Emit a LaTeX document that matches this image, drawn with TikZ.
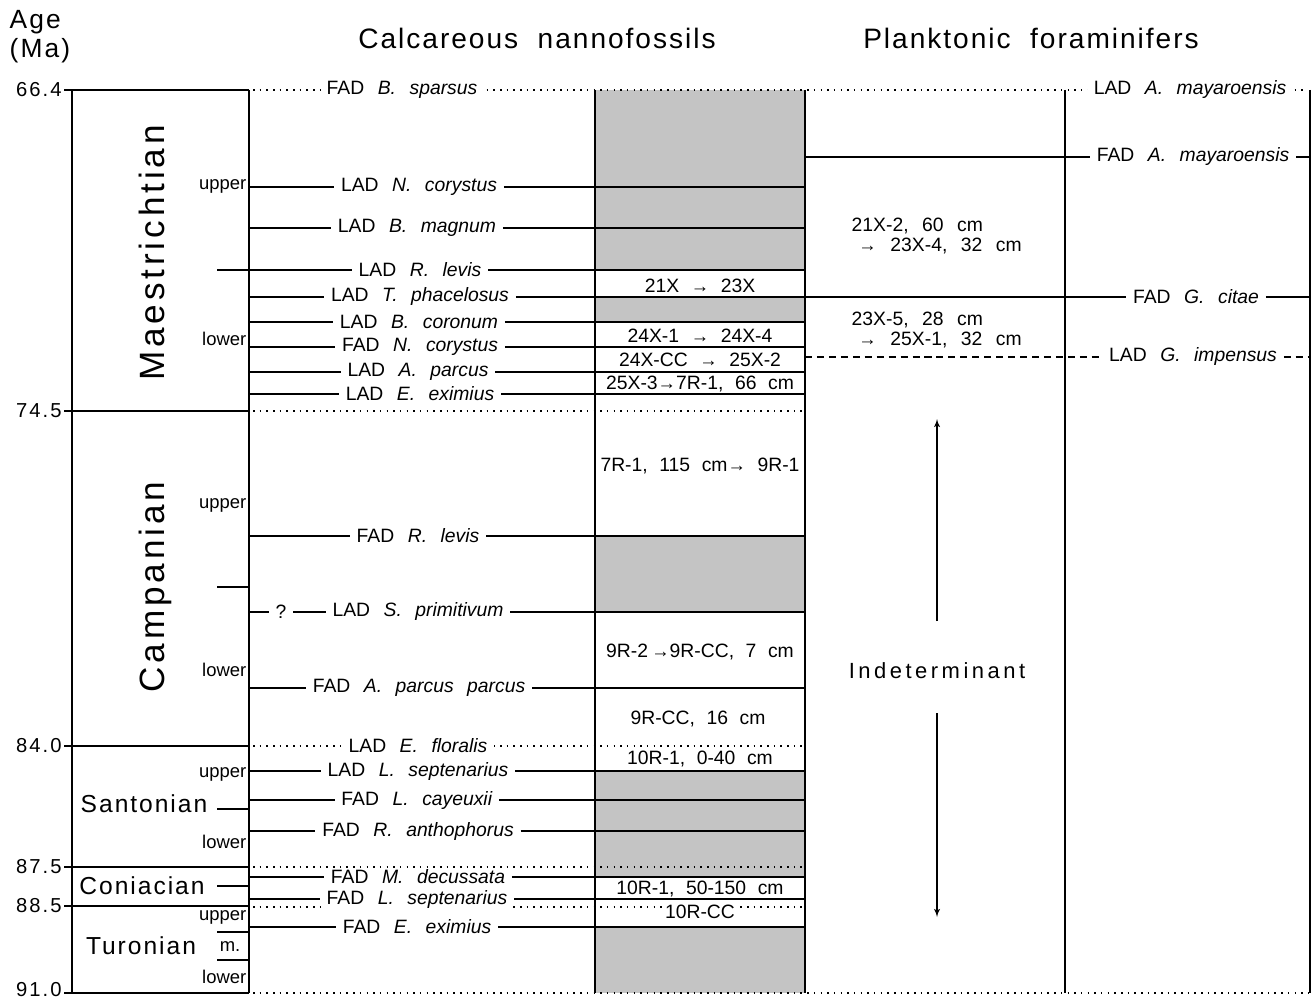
\documentclass[tikz,border=0pt]{standalone}
\usepackage{fontspec}
\setmainfont{Liberation Sans}
\newfontfamily\headfont[LetterSpace=7]{Liberation Sans}
\newfontfamily\indfont[LetterSpace=16]{Liberation Sans}
\newfontfamily\stagefont[LetterSpace=11]{Liberation Sans}
\newfontfamily\substfont[LetterSpace=8]{Liberation Sans}
\newfontfamily\agefont[LetterSpace=10]{Liberation Sans}
\usepackage{tikz}
\usetikzlibrary{arrows}
\newcommand{\species}[1]{\textit{#1}}
\newcommand{\toarr}{{\fontsize{10.5}{11}\selectfont →}}
\newcommand{\evfont}{\fontsize{11}{13}\selectfont\spaceskip 0.7em\relax}
\newcommand{\pffont}{\fontsize{11}{11.6}\selectfont\spaceskip 0.7em\relax}
\newcommand{\smfont}{\fontsize{11}{13}\selectfont\spaceskip 0.6em\relax}
\tikzset{evt/.style={fill=white,inner xsep=3.5pt,inner ysep=1pt,font=\evfont},
  smp/.style={fill=white,inner sep=1pt,font=\smfont},
  pfs/.style={anchor=west,inner sep=0pt,align=left,font=\pffont},
  agel/.style={anchor=east,inner sep=1pt,font=\fontsize{11.5}{13}\selectfont\agefont},
  sub/.style={anchor=east,inner sep=0pt,font=\fontsize{10.5}{12}\selectfont},
  stg/.style={inner sep=0pt,font=\fontsize{14}{16}\selectfont\substfont},
  bigstage/.style={rotate=90,anchor=base,inner sep=0pt,font=\fontsize{20}{24}\selectfont\stagefont},
  head/.style={inner sep=0pt,font=\fontsize{16}{18}\selectfont\headfont},
  dots/.style={line width=0.9pt,dash pattern=on 0.9pt off 2.9pt},
  impdash/.style={line width=1.1pt,dash pattern=on 4pt off 2.8pt},
  shade/.style={fill=black!23}}
\begin{document}
\begin{tikzpicture}[x=0.02cm,y=-0.02cm,line width=0.8pt]
\useasboundingbox (0,0) rectangle (1312,1000);
%headings
\node[stg,anchor=west,font=\fontsize{15}{17}\selectfont\substfont] (age) at (9,22) {Age};
\node[stg,anchor=west,font=\fontsize{15}{17}\selectfont\substfont] (ma) at (9,51) {(Ma)};
\node[head] (cn) at (537,38) {Calcareous~ nannofossils};
\node[head] (pf) at (1031,38) {Planktonic~ foraminifers};
%shaded intervals of the sample column
\fill[shade] (595,90) rectangle (805,270); \fill[shade] (595,297) rectangle (805,322);
\fill[shade] (595,536) rectangle (805,612); \fill[shade] (595,771) rectangle (805,877);
\fill[shade] (595,927) rectangle (805,993);
%dotted stage boundaries
\draw[dots] (253,90) -- (1306,90); \draw[dots] (253,411) -- (805,411);
\draw[dots] (253,746) -- (805,746); \draw[dots] (253,867) -- (805,867);
\draw[dots] (253,907) -- (805,907); \draw[dots] (253,993) -- (1310,993);
%ages
\node[agel] (a664) at (64,90) {66.4}; \node[agel] (a745) at (64,411) {74.5};
\node[agel] (a840) at (64,746) {84.0}; \node[agel] (a875) at (64,867) {87.5};
\node[agel] (a885) at (64,906) {88.5}; \node[agel] (a910) at (64,990) {91.0};
%stages and substages
\node[bigstage] (maes) at (164,253) {Maestrichtian}; \node[bigstage] (camp) at (164,587) {Campanian};
\node[stg] (sant) at (144,804) {Santonian}; \node[stg] (coni) at (142,886) {Coniacian};
\node[stg] (turo) at (141,946) {Turonian};
\node[sub] (mu) at (247,186) {upper}; \node[sub] (ml) at (247,339) {lower};
\node[sub] (cu) at (247,505) {upper}; \node[sub] (cl) at (247,670) {lower};
\node[sub] (su) at (247,774) {upper}; \node[sub] (sl) at (247,842) {lower};
\node[sub] (tu) at (247,917) {upper}; \node[sub,anchor=center] (tm) at (230,947) {m.};
\node[sub] (tl) at (247,977) {lower};
%nannofossil events
\node[evt] (Bspar) at (402,90) {FAD \species{B. sparsus}};
\node[evt] (Ncorl) at (419,187) {LAD \species{N. corystus}};
\node[evt] (Bmag) at (417,228) {LAD \species{B. magnum}};
\node[evt] (Rlevl) at (420,270) {LAD \species{R. levis}};
\node[evt] (Tpha) at (420,297) {LAD \species{T. phacelosus}};
\node[evt] (Bcor) at (419,322) {LAD \species{B. coronum}};
\node[evt] (Ncorf) at (420,347) {FAD \species{N. corystus}};
\node[evt] (Apar) at (418,372) {LAD \species{A. parcus}};
\node[evt] (Eexl) at (420,394) {LAD \species{E. eximius}};
\node[evt] (Rlevf) at (418,536) {FAD \species{R. levis}};
\node[evt] (q) at (281,612) {?}; \node[evt] (Sprim) at (418,612) {LAD \species{S. primitivum}};
\node[evt] (App) at (419,688) {FAD \species{A. parcus parcus}};
\node[evt] (Eflo) at (418,746) {LAD \species{E. floralis}};
\node[evt] (Lsepl) at (418,771) {LAD \species{L. septenarius}};
\node[evt] (Lcay) at (417,800) {FAD \species{L. cayeuxii}};
\node[evt] (Rant) at (418,831) {FAD \species{R. anthophorus}};
\node[evt] (Mdec) at (418,877) {FAD \species{M. decussata}};
\node[evt] (Lsepf) at (417,899) {FAD \species{L. septenarius}};
\node[evt] (Eexf) at (417,927) {FAD \species{E. eximius}};
%samples
\node[smp] (s1) at (700,286) {21X \toarr\ 23X}; \node[smp] (s2) at (700,336) {24X-1 \toarr\ 24X-4};
\node[smp] (s3) at (700,360) {24X-CC \toarr\ 25X-2}; \node[smp] (s4) at (700,384) {25X-3\toarr 7R-1, 66 cm};
\node[smp] (s5) at (700,466) {7R-1, 115 cm\toarr\ 9R-1}; \node[smp] (s6) at (700,652) {9R-2\,\toarr 9R-CC, 7 cm};
\node[smp] (s7) at (698,719) {9R-CC, 16 cm}; \node[smp] (s8) at (700,759) {10R-1, 0-40 cm};
\node[smp] (s9) at (700,889) {10R-1, 50-150 cm}; \node[smp] (s10) at (700,912) {10R-CC};
%foraminifer events
\node[evt] (Amayl) at (1190,90) {LAD \species{A. mayaroensis}};
\node[evt] (Amayf) at (1193,157) {FAD \species{A. mayaroensis}};
\node[evt] (Gcit) at (1196,297) {FAD \species{G. citae}};
\node[evt] (Gimp) at (1193,357) {LAD \species{G. impensus}};
\node[pfs] (pf1) at (851,236) {21X-2, 60 cm\\\hspace{0.35em}\toarr\ 23X-4, 32 cm};
\node[pfs] (pf2) at (851,330) {23X-5, 28 cm\\\hspace{0.35em}\toarr\ 25X-1, 32 cm};
\node[inner sep=0pt,font=\fontsize{12.5}{14}\selectfont\indfont] (Ind) at (937,671) {Indeterminant};
%stage column
\draw (a664) -- (249,90); \draw (a745) -- (249,411); \draw (a840) -- (249,746);
\draw (a875) -- (249,867); \draw (a885) -- (249,906); \draw (a910.east) ++(0,3) -- (249,993);
\draw (72,90) -- (72,993); \draw (249,90) -- (249,993);
\draw (217,587) -- (249,587); \draw (217,809) -- (249,809); \draw (217,886) -- (249,886);
\draw (217,932) -- (249,932); \draw (217,960) -- (249,960);
%event lines
\draw (249,187) -- (Ncorl) -- (805,187); \draw (249,228) -- (Bmag) -- (805,228);
\draw (217,270) -- (Rlevl) -- (805,270); \draw (249,297) -- (Tpha) -- (Gcit) -- (1310,297);
\draw (249,322) -- (Bcor) -- (805,322); \draw (249,347) -- (Ncorf) -- (805,347);
\draw (249,372) -- (Apar) -- (805,372); \draw (249,394) -- (Eexl) -- (805,394);
\draw (249,536) -- (Rlevf) -- (805,536); \draw (249,612) -- (q) -- (Sprim) -- (805,612);
\draw (249,688) -- (App) -- (805,688); \draw (249,771) -- (Lsepl) -- (805,771);
\draw (249,800) -- (Lcay) -- (805,800); \draw (249,831) -- (Rant) -- (805,831);
\draw (249,877) -- (Mdec) -- (805,877); \draw (249,899) -- (Lsepf) -- (805,899);
\draw (249,927) -- (Eexf) -- (805,927);
\draw (805,157) -- (Amayf) -- (1310,157); \draw[impdash] (805,357) -- (Gimp) -- (1310,357);
%column borders
\draw (595,90) -- (595,993); \draw (805,90) -- (805,993);
\draw (1065,90) -- (1065,993); \draw (1310,90) -- (1310,993);
%indeterminant range
\coordinate (iua) at (937,621); \coordinate (iub) at (937,419);
\coordinate (ida) at (937,713); \coordinate (idb) at (937,917);
\draw[->,>=latex',line width=0.6pt] (iua) -- (iub); \draw[->,>=latex',line width=0.6pt] (ida) -- (idb);
\end{tikzpicture}
\end{document}
